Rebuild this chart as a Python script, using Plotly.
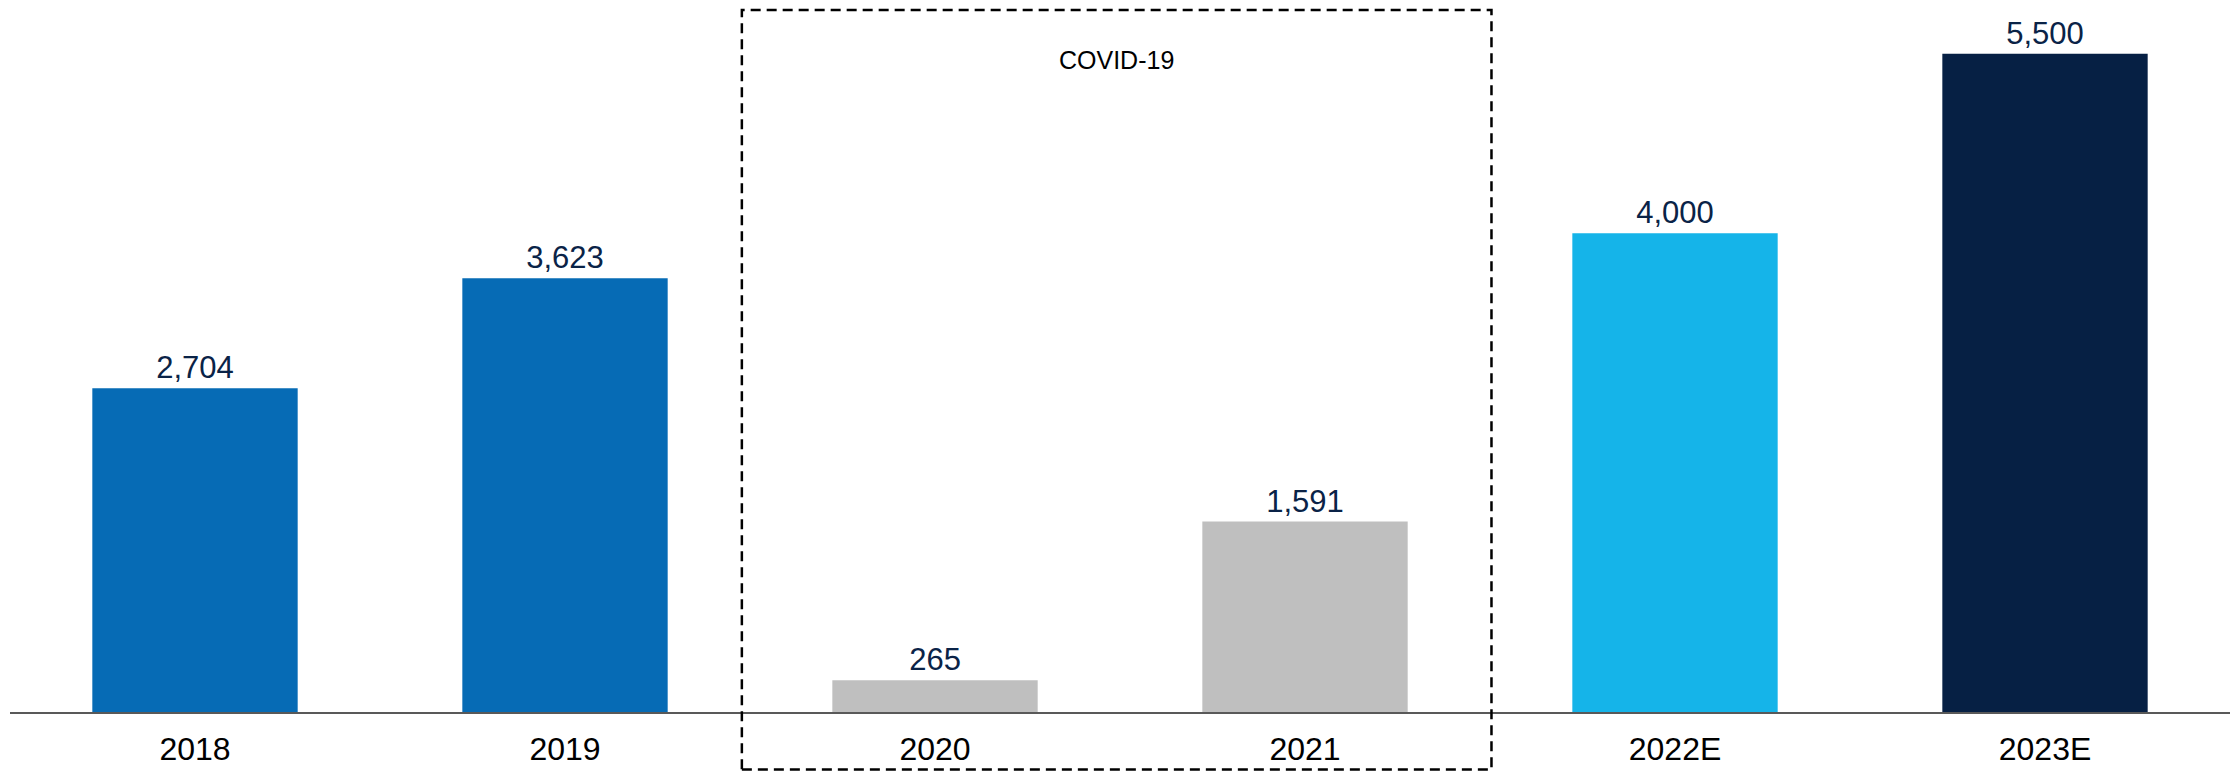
import plotly.graph_objects as go

# Annual figures, actuals and estimates
years = ["2018", "2019", "2020", "2021", "2022E", "2023E"]
values = [2704, 3623, 265, 1591, 4000, 5500]
bar_colors = ["#066BB5", "#066BB5", "#BFBFBF", "#BFBFBF", "#15B4E9", "#062044"]
note_text = "COVID-19"

narrow = "Liberation Sans Narrow, Arial Narrow, Liberation Sans, Arial, sans-serif"
regular = "Liberation Sans, Arial, sans-serif"

fig = go.Figure(
    go.Bar(
        x=years,
        y=values,
        marker=dict(color=bar_colors, line=dict(width=0)),
        width=0.555,
        texttemplate="%{y:,}",
        textposition="outside",
        cliponaxis=False,
        textfont=dict(family=regular, size=31, color="#0A2347"),
        hoverinfo="skip",
    )
)

# Dashed frame around the pandemic years
fig.add_shape(
    type="rect", xref="x", yref="paper",
    x0=1.478, x1=3.504, y0=-0.082, y1=1.0,
    line=dict(color="#000000", width=2.5, dash="10px,6px"),
    fillcolor="rgba(0,0,0,0)",
)
fig.add_annotation(
    x=2.49, y=0.952, xref="x", yref="paper",
    text=note_text, showarrow=False,
    font=dict(family=narrow, size=25, color="#000000"),
)

fig.update_layout(
    width=2237, height=774,
    margin=dict(l=10, r=7, t=10, b=59),
    paper_bgcolor="white", plot_bgcolor="white",
    showlegend=False,
    bargap=0.445,
)
fig.update_xaxes(
    range=[-0.5, 5.5],
    showline=True, linecolor="#595959", linewidth=2,
    ticks="", showgrid=False,
    tickfont=dict(family=narrow, size=32, color="#000000"),
    ticklabelstandoff=8,
)
fig.update_yaxes(
    range=[0, 5865], visible=False, showgrid=False, zeroline=False,
)

fig.write_html("out.html")
